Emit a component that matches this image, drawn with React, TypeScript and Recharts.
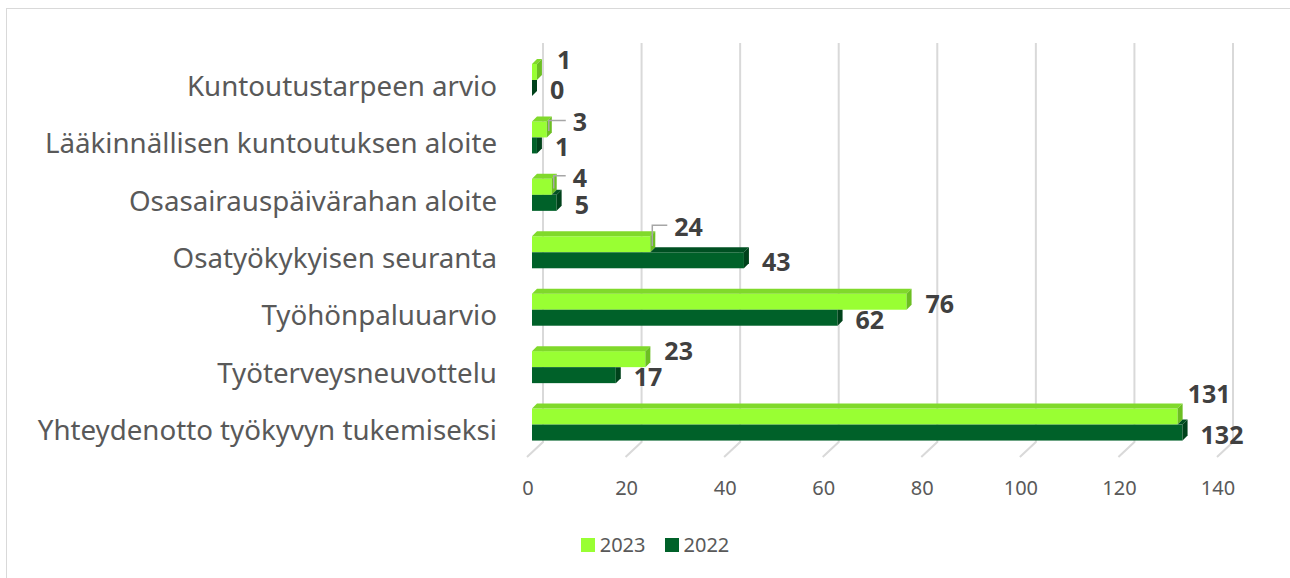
import React from 'react';
import { BarChart, Bar, XAxis, YAxis, CartesianGrid, Legend, LabelList } from 'recharts';

// ---- data ----
const categories = [
  'Kuntoutustarpeen arvio',
  'Lääkinnällisen kuntoutuksen aloite',
  'Osasairauspäivärahan aloite',
  'Osatyökykyisen seuranta',
  'Työhönpaluuarvio',
  'Työterveysneuvottelu',
  'Yhteydenotto työkyvyn tukemiseksi',
];
const values2023 = [1, 3, 4, 24, 76, 23, 131];
const values2022 = [0, 1, 5, 43, 62, 17, 132];
const xTicks = [0, 20, 40, 60, 80, 100, 120, 140];
const seriesNames = ['2023', '2022'];

const data = categories.map((name, i) => ({ name, v2023: values2023[i], v2022: values2022[i] }));

// ---- style ----
const FONT = '"Noto Sans", "Open Sans", sans-serif';
const D = 5; // 3D depth
const LIGHT = { front: '#99FF33', top: '#80D92B', side: '#6CBF22' };
const DARK = { front: '#006129', top: '#005022', side: '#00421B' };
const LABEL_SIZE = 25;

// manual data label nudges for the 2023 series (layout only)
const nudge2023: Record<string, { dx: number; dy: number; leader?: boolean }> = {
  'Kuntoutustarpeen arvio': { dx: 0, dy: -5 },
  'Lääkinnällisen kuntoutuksen aloite': { dx: 6, dy: 0, leader: true },
  'Osasairauspäivärahan aloite': { dx: 1, dy: -2, leader: true },
  'Osatyökykyisen seuranta': { dx: 4, dy: -10, leader: true },
  'Työhönpaluuarvio': { dx: -1, dy: 9 },
  'Työterveysneuvottelu': { dx: -1, dy: -1 },
  'Yhteydenotto työkyvyn tukemiseksi': { dx: -10, dy: -16 },
};

const poly = (pts: number[][]) => pts.map((p) => `${p[0]},${p[1]}`).join(' ');

const UpperBar = (props: any) => {
  const { x, y, width, height } = props;
  const w = Math.max(0, width);
  const h = height;
  return (
    <g>
      <rect x={x} y={y} width={w} height={h} fill={LIGHT.front} />
      <polygon points={poly([[x, y], [x + D, y - D], [x + w + D, y - D], [x + w, y]])} fill={LIGHT.top} />
      <polygon points={poly([[x + w, y], [x + w + D, y - D], [x + w + D, y + h - D], [x + w, y + h]])} fill={LIGHT.side} />
    </g>
  );
};

const LowerBar = (props: any) => {
  const { x, y, width, height, payload } = props;
  const w = Math.max(0, width);
  const h = height;
  const upper = payload.v2023;
  const lower = payload.v2022;
  const parts: React.ReactNode[] = [];
  parts.push(<rect key="f" x={x} y={y} width={w} height={h} fill={DARK.front} />);
  if (lower > upper) {
    const ts = x + (w * upper) / lower;
    parts.push(
      <polygon key="t" points={poly([[ts, y], [ts + D, y - D], [x + w + D, y - D], [x + w, y]])} fill={DARK.top} />
    );
    parts.push(
      <polygon key="s" points={poly([[x + w, y], [x + w + D, y - D], [x + w + D, y + h - D], [x + w, y + h]])} fill={DARK.side} />
    );
  } else {
    parts.push(
      <polygon key="s" points={poly([[x + w, y], [x + w + D, y], [x + w + D, y + h - D], [x + w, y + h]])} fill={DARK.side} />
    );
  }
  return <g>{parts}</g>;
};

const Label2023 = (props: any) => {
  const { x, y, width, height, index, value } = props;
  const n = nudge2023[categories[index]] || { dx: 0, dy: 0 };
  const w = Math.max(0, width);
  const left = x + w + D + 15 + n.dx;
  const cy = y + height / 2 - 7 + n.dy;
  return (
    <g>
      {n.leader && (
        <polyline
          points={poly([[x + w + 2, y + height * 0.6], [x + w + 2, cy - 2], [left - 7, cy - 2]])}
          fill="none"
          stroke="#A6A6A6"
          strokeWidth={1.5}
        />
      )}
      <text x={left} y={cy} dy="0.36em" fontFamily={FONT} fontSize={LABEL_SIZE} fontWeight={700} fill="#404040">
        {value}
      </text>
    </g>
  );
};

const Label2022 = (props: any) => {
  const { x, y, width, height, value } = props;
  const w = Math.max(0, width);
  const left = x + w + D + 13;
  const cy = y + height / 2 + 2;
  return (
    <text x={left} y={cy} dy="0.36em" fontFamily={FONT} fontSize={LABEL_SIZE} fontWeight={700} fill="#404040">
      {value}
    </text>
  );
};

const gridLine = (props: any) => {
  const { x1, y1, y2, index } = props;
  return (
    <path
      key={`g${index}`}
      d={`M${x1 + 11},${y1 - 8} L${x1 + 11},${y2 - 11} L${x1 - 5},${y2 + 4}`}
      stroke="#D9D9D9"
      strokeWidth={2}
      fill="none"
    />
  );
};

const XTick = (props: any) => (
  <text x={props.x - 4} y={props.y + 42} textAnchor="middle" fontFamily={FONT} fontSize={20} fill="#595959">
    {props.payload.value}
  </text>
);

const YTick = (props: any) => (
  <text x={props.x - 35} y={props.y + 16} textAnchor="end" fontFamily={FONT} fontSize={27.7} fill="#595959">
    {props.payload.value}
  </text>
);

const renderLegend = (props: any) => {
  const payload = [...(props.payload || [])].sort(
    (a: any, b: any) => seriesNames.indexOf(String(a.value)) - seriesNames.indexOf(String(b.value))
  );
  return (
    <div
      style={{
        display: 'flex',
        justifyContent: 'center',
        paddingLeft: 18,
        fontFamily: FONT,
        fontSize: 20,
        lineHeight: '20px',
        color: '#595959',
      }}
    >
      {payload.map((e: any, i: number) => (
        <div key={i} style={{ display: 'flex', alignItems: 'center', marginLeft: i ? 19 : 0 }}>
          <span style={{ width: 14, height: 14, background: e.color, marginRight: 5, display: 'inline-block' }} />
          <span>{e.value}</span>
        </div>
      ))}
    </div>
  );
};

export default function App() {
  return (
    <div style={{ position: 'fixed', left: 0, top: 0, width: 1290, height: 578, overflow: 'hidden', background: '#fff' }}>
      <div
        style={{
          position: 'absolute',
          left: 6,
          top: 8,
          width: 1310,
          height: 600,
          border: '1.5px solid #D9D9D9',
          boxSizing: 'border-box',
        }}
      />
      <div style={{ position: 'absolute', left: 0, top: 0 }}>
        <BarChart
          width={1290}
          height={578}
          data={data}
          layout="vertical"
          margin={{ top: 51, right: 68, left: 0, bottom: 95 }}
          barSize={16}
          barGap={0}
        >
          <CartesianGrid horizontal={false} vertical={gridLine} />
          <XAxis
            type="number"
            domain={[0, 140]}
            ticks={xTicks}
            interval={0}
            axisLine={false}
            tickLine={false}
            tickSize={0}
            tickMargin={0}
            height={30}
            tick={<XTick />}
          />
          <YAxis
            type="category"
            dataKey="name"
            width={532}
            interval={0}
            axisLine={false}
            tickLine={false}
            tickSize={0}
            tickMargin={0}
            tick={<YTick />}
          />
          <Legend
            layout="horizontal"
            verticalAlign="middle"
            align="center"
            itemSorter={null as any}
            wrapperStyle={{ position: 'absolute', left: 1, top: 535, width: 1290 }}
            content={renderLegend}
          />
          <Bar dataKey="v2023" name={seriesNames[0]} fill={LIGHT.front} shape={UpperBar} isAnimationActive={false}>
            <LabelList dataKey="v2023" content={Label2023} />
          </Bar>
          <Bar dataKey="v2022" name={seriesNames[1]} fill={DARK.front} shape={LowerBar} isAnimationActive={false}>
            <LabelList dataKey="v2022" content={Label2022} />
          </Bar>
        </BarChart>
      </div>
    </div>
  );
}
